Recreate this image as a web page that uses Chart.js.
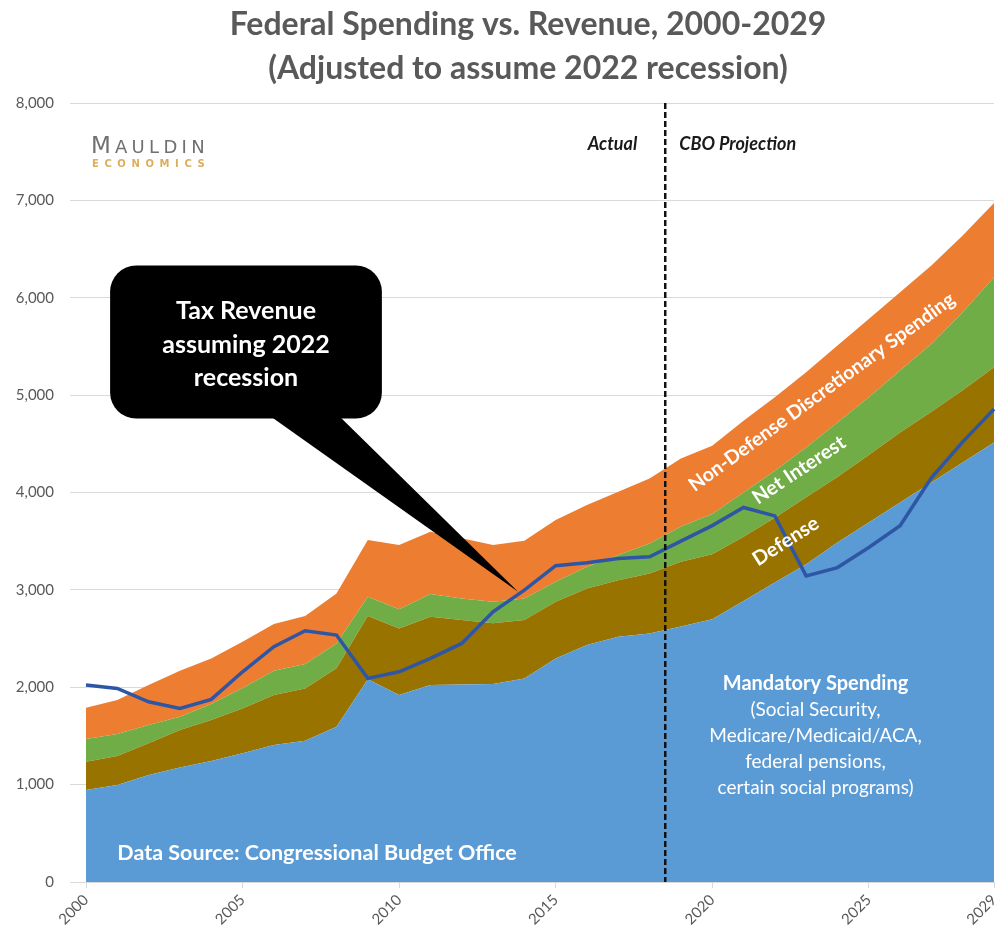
<!DOCTYPE html>
<html>
<head>
<meta charset="utf-8">
<script src="https://cdn.jsdelivr.net/npm/chart.js@4.4.1/dist/chart.umd.min.js"></script>
<style>
  html, body { margin: 0; padding: 0; background: #fff; }
  #wrap { width: 1000px; height: 930px; }
</style>
</head>
<body>
<div id="wrap"><canvas id="chart" width="1000" height="930"></canvas></div>
<script>
// values in $ billions
const years = ['2000', '2001', '2002', '2003', '2004', '2005', '2006', '2007', '2008', '2009',
               '2010', '2011', '2012', '2013', '2014', '2015', '2016', '2017', '2018', '2019',
               '2020', '2021', '2022', '2023', '2024', '2025', '2026', '2027', '2028', '2029'];
const xTickLabels = ['2000', '2005', '2010', '2015', '2020', '2025', '2029'];

const mandatory = [945, 996, 1099, 1177, 1242, 1321, 1407, 1451, 1595, 2081,
                   1920, 2022, 2029, 2033, 2091, 2296, 2433, 2519, 2553, 2625,
                   2699, 2887, 3075, 3264, 3486, 3692, 3897, 4103, 4308, 4514];
const defense = [290, 298, 325, 384, 421, 462, 513, 537, 599, 650,
                 684, 702, 661, 623, 599, 582, 582, 581, 616, 665,
                 667, 658, 665, 686, 674, 693, 718, 727, 742, 772];
const netInterest = [233, 225, 188, 136, 164, 209, 250, 250, 256, 198,
                     196, 233, 222, 222, 222, 205, 222, 257, 308, 360,
                     412, 455, 483, 513, 560, 592, 637, 696, 802, 925];
const nonDefense = [322, 350, 410, 473, 469, 476, 479, 493, 514, 582,
                    660, 640, 617, 582, 593, 634, 634, 651, 667, 700,
                    702, 737, 754, 771, 789, 806, 805, 805, 788, 762];
const revenue = [2022, 1988, 1851, 1783, 1875, 2159, 2416, 2580, 2536, 2091,
                 2159, 2296, 2450, 2775, 2998, 3248, 3279, 3323, 3340, 3500,
                 3660, 3846, 3760, 3144, 3229, 3435, 3658, 4150, 4520, 4856];

const yMax = 8000;
const yStep = 1000;
const dividerIndex = 18.5; // between 2018 actual and 2019 projection

const FONT = 'Lato, "Open Sans", sans-serif';

function text(ctx, str, x, y, font, color, align, angle) {
    ctx.save();
    ctx.translate(x, y);
    if (angle) ctx.rotate(angle * Math.PI / 180);
    ctx.font = font;
    ctx.fillStyle = color;
    ctx.textAlign = align || 'center';
    ctx.textBaseline = 'middle';
    ctx.fillText(str, 0, 0);
    ctx.restore();
}

const overlay = {
    id: 'overlay',
    afterDatasetsDraw(chart) {
        const { ctx, chartArea, scales: { x, y } } = chart;

        // dashed divider actual / projection
        const dx = x.getPixelForValue(dividerIndex);
        ctx.save();
        ctx.strokeStyle = '#111';
        ctx.lineWidth = 2.5;
        ctx.setLineDash([6, 3]);
        ctx.beginPath();
        ctx.moveTo(dx, chartArea.top);
        ctx.lineTo(dx, chartArea.bottom);
        ctx.stroke();
        ctx.restore();

        text(ctx, 'Actual', dx - 28, y.getPixelForValue(7580), 'italic bold 18px ' + FONT, '#1a1a1a', 'right');
        text(ctx, 'CBO Projection', dx + 14, y.getPixelForValue(7580), 'italic bold 18px ' + FONT, '#1a1a1a', 'left');

        // callout pointing at the revenue line
        const bl = x.getPixelForValue(0.77), br = x.getPixelForValue(9.45);
        const bt = y.getPixelForValue(6330), bb = y.getPixelForValue(4760);
        ctx.save();
        ctx.fillStyle = '#000';
        ctx.beginPath();
        ctx.roundRect(bl, bt, br - bl, bb - bt, 26);
        ctx.fill();
        ctx.beginPath();
        ctx.moveTo(x.getPixelForValue(5.9), bb - 2);
        ctx.lineTo(x.getPixelForValue(8.1), bb - 2);
        ctx.lineTo(x.getPixelForValue(13.8), y.getPixelForValue(2980));
        ctx.closePath();
        ctx.fill();
        ctx.restore();
        const cx = (bl + br) / 2;
        text(ctx, 'Tax Revenue', cx, y.getPixelForValue(5860), 'bold 25px ' + FONT, '#fff');
        text(ctx, 'assuming 2022', cx, y.getPixelForValue(5520), 'bold 25px ' + FONT, '#fff');
        text(ctx, 'recession', cx, y.getPixelForValue(5180), 'bold 25px ' + FONT, '#fff');

        // labels on the areas
        text(ctx, 'Non-Defense Discretionary Spending', x.getPixelForValue(23.5), y.getPixelForValue(5030),
             'bold 19.5px ' + FONT, '#fff', 'center', -36);
        text(ctx, 'Net Interest', x.getPixelForValue(22.77), y.getPixelForValue(4230),
             'bold 20px ' + FONT, '#fff', 'center', -33.5);
        text(ctx, 'Defense', x.getPixelForValue(22.35), y.getPixelForValue(3500),
             'bold 20px ' + FONT, '#fff', 'center', -32.5);

        const mx = x.getPixelForValue(23.3);
        const my = y.getPixelForValue(2040);
        text(ctx, 'Mandatory Spending', mx, my, 'bold 20px ' + FONT, '#fff');
        const sub = ['(Social Security,', 'Medicare/Medicaid/ACA,', 'federal pensions,', 'certain social programs)'];
        sub.forEach((s, i) => text(ctx, s, mx, my + 27 + i * 25.7, '19px ' + FONT, '#fff'));

        text(ctx, 'Data Source: Congressional Budget Office', x.getPixelForValue(1.0), y.getPixelForValue(300),
             'bold 21.5px ' + FONT, '#fff', 'left');
    },
    afterDraw(chart) {
        const ctx = chart.ctx;
        // title
        text(ctx, 'Federal Spending vs. Revenue, 2000-2029', 528, 25, 'bold 32px ' + FONT, '#595959');
        text(ctx, '(Adjusted to assume 2022 recession)', 528, 69, 'bold 32px ' + FONT, '#595959');

        // logo
        ctx.save();
        ctx.fillStyle = '#707070';
        ctx.textBaseline = 'alphabetic';
        ctx.font = '23px "DejaVu Sans", sans-serif';
        ctx.fillText('M', 91, 153);
        ctx.font = '18px "DejaVu Sans", sans-serif';
        ctx.letterSpacing = '4.3px';
        ctx.fillText('AULDIN', 115, 153);
        ctx.fillStyle = '#dcae5c';
        ctx.font = 'bold 10px "DejaVu Sans", sans-serif';
        ctx.letterSpacing = '5.6px';
        ctx.fillText('ECONOMICS', 92, 167);
        ctx.restore();
    }
};

new Chart(document.getElementById('chart'), {
    type: 'line',
    data: {
        labels: years,
        datasets: [
            { label: 'Mandatory Spending', data: mandatory, backgroundColor: '#5b9bd5', fill: 'origin', stack: 'spend' },
            { label: 'Defense', data: defense, backgroundColor: '#997300', fill: '-1', stack: 'spend' },
            { label: 'Net Interest', data: netInterest, backgroundColor: '#70ad47', fill: '-1', stack: 'spend' },
            { label: 'Non-Defense Discretionary', data: nonDefense, backgroundColor: '#ed7d31', fill: '-1', stack: 'spend' },
            { label: 'Tax Revenue', data: revenue, borderColor: '#2f55a5', borderWidth: 3.5, fill: false,
              stack: 'revenue', order: -1 }
        ].map(d => Object.assign({ pointRadius: 0, tension: 0, borderWidth: 0 }, d))
    },
    options: {
        responsive: false,
        animation: false,
        layout: { padding: { top: 103, right: 6, left: 0, bottom: 0 } },
        plugins: {
            legend: { display: false },
            tooltip: { enabled: false },
            title: { display: false }
        },
        scales: {
            x: {
                grid: { drawOnChartArea: false, tickLength: 6, color: '#d9d9d9' },
                border: { color: '#d9d9d9' },
                ticks: {
                    autoSkip: false,
                    maxRotation: 45,
                    minRotation: 45,
                    color: '#595959',
                    font: { family: FONT, size: 15 },
                    callback: function (val) {
                        const lab = this.getLabelForValue(val);
                        return xTickLabels.includes(lab) ? lab : null;
                    }
                },
                afterFit: s => { s.height = 48; s.paddingLeft = 0; s.paddingRight = 0; }
            },
            y: {
                stacked: true,
                min: 0,
                max: yMax,
                grid: { color: '#d9d9d9', tickLength: 16 },
                border: { display: false },
                ticks: {
                    stepSize: yStep,
                    padding: 16,
                    color: '#595959',
                    font: { family: FONT, size: 15 }
                },
                afterFit: s => { s.width = 86; s.paddingTop = 0; s.paddingBottom = 0; }
            }
        }
    },
    plugins: [overlay]
});
</script>
</body>
</html>
